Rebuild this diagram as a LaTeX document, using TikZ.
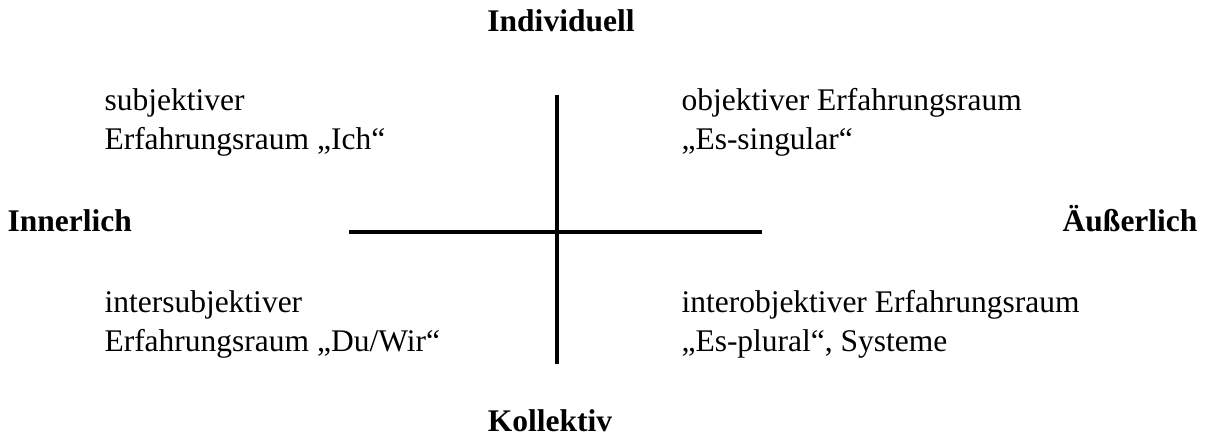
\documentclass[tikz,border=0pt]{standalone}
\usepackage{fontspec}
\setmainfont{Liberation Serif}
\usepackage{xcolor}
\usepackage{tikz}
\definecolor{figline}{RGB}{0,0,0}
\tikzset{
  axs/.style ={draw=figline, line width=1.5pt, line cap=butt},
  axl/.style ={font=\fontsize{12}{14.9}\selectfont\bfseries, inner sep=0pt, anchor=base},
  qtx/.style ={font=\fontsize{12}{14.9}\selectfont, inner sep=0pt, align=left, anchor=base west},
}

\begin{document}
\begin{tikzpicture}[x=0.381pt,y=-0.381pt]
  \useasboundingbox (0,0) rectangle (1206,437);
  % axes
  \coordinate (vtop) at (557,95);
  \coordinate (vbot) at (557,364);
  \coordinate (hlft) at (349,232);
  \coordinate (hrgt) at (762,232);
  \draw[axs] (vtop) -- (vbot);
  \draw[axs] (hlft) -- (hrgt);
  % axis labels
  \node[axl] (indiv) at (561,32) {Individuell};
  \node[axl] (koll) at (550,432) {Kollektiv};
  \node[axl,anchor=base west] (inner) at (7,232) {Innerlich};
  \node[axl,anchor=base east] (auss) at (1198,232) {Äußerlich};
  % quadrants (base = last line)
  \node[qtx] (subj) at (104,150) {subjektiver\\Erfahrungsraum „Ich“};
  \node[qtx] (obj) at (681,150) {objektiver Erfahrungsraum\\„Es-singular“};
  \node[qtx] (isubj) at (104,352) {intersubjektiver\\Erfahrungsraum „Du/Wir“};
  \node[qtx] (iobj) at (681,352) {interobjektiver Erfahrungsraum\\„Es-plural“, Systeme};
\end{tikzpicture}
\end{document}
